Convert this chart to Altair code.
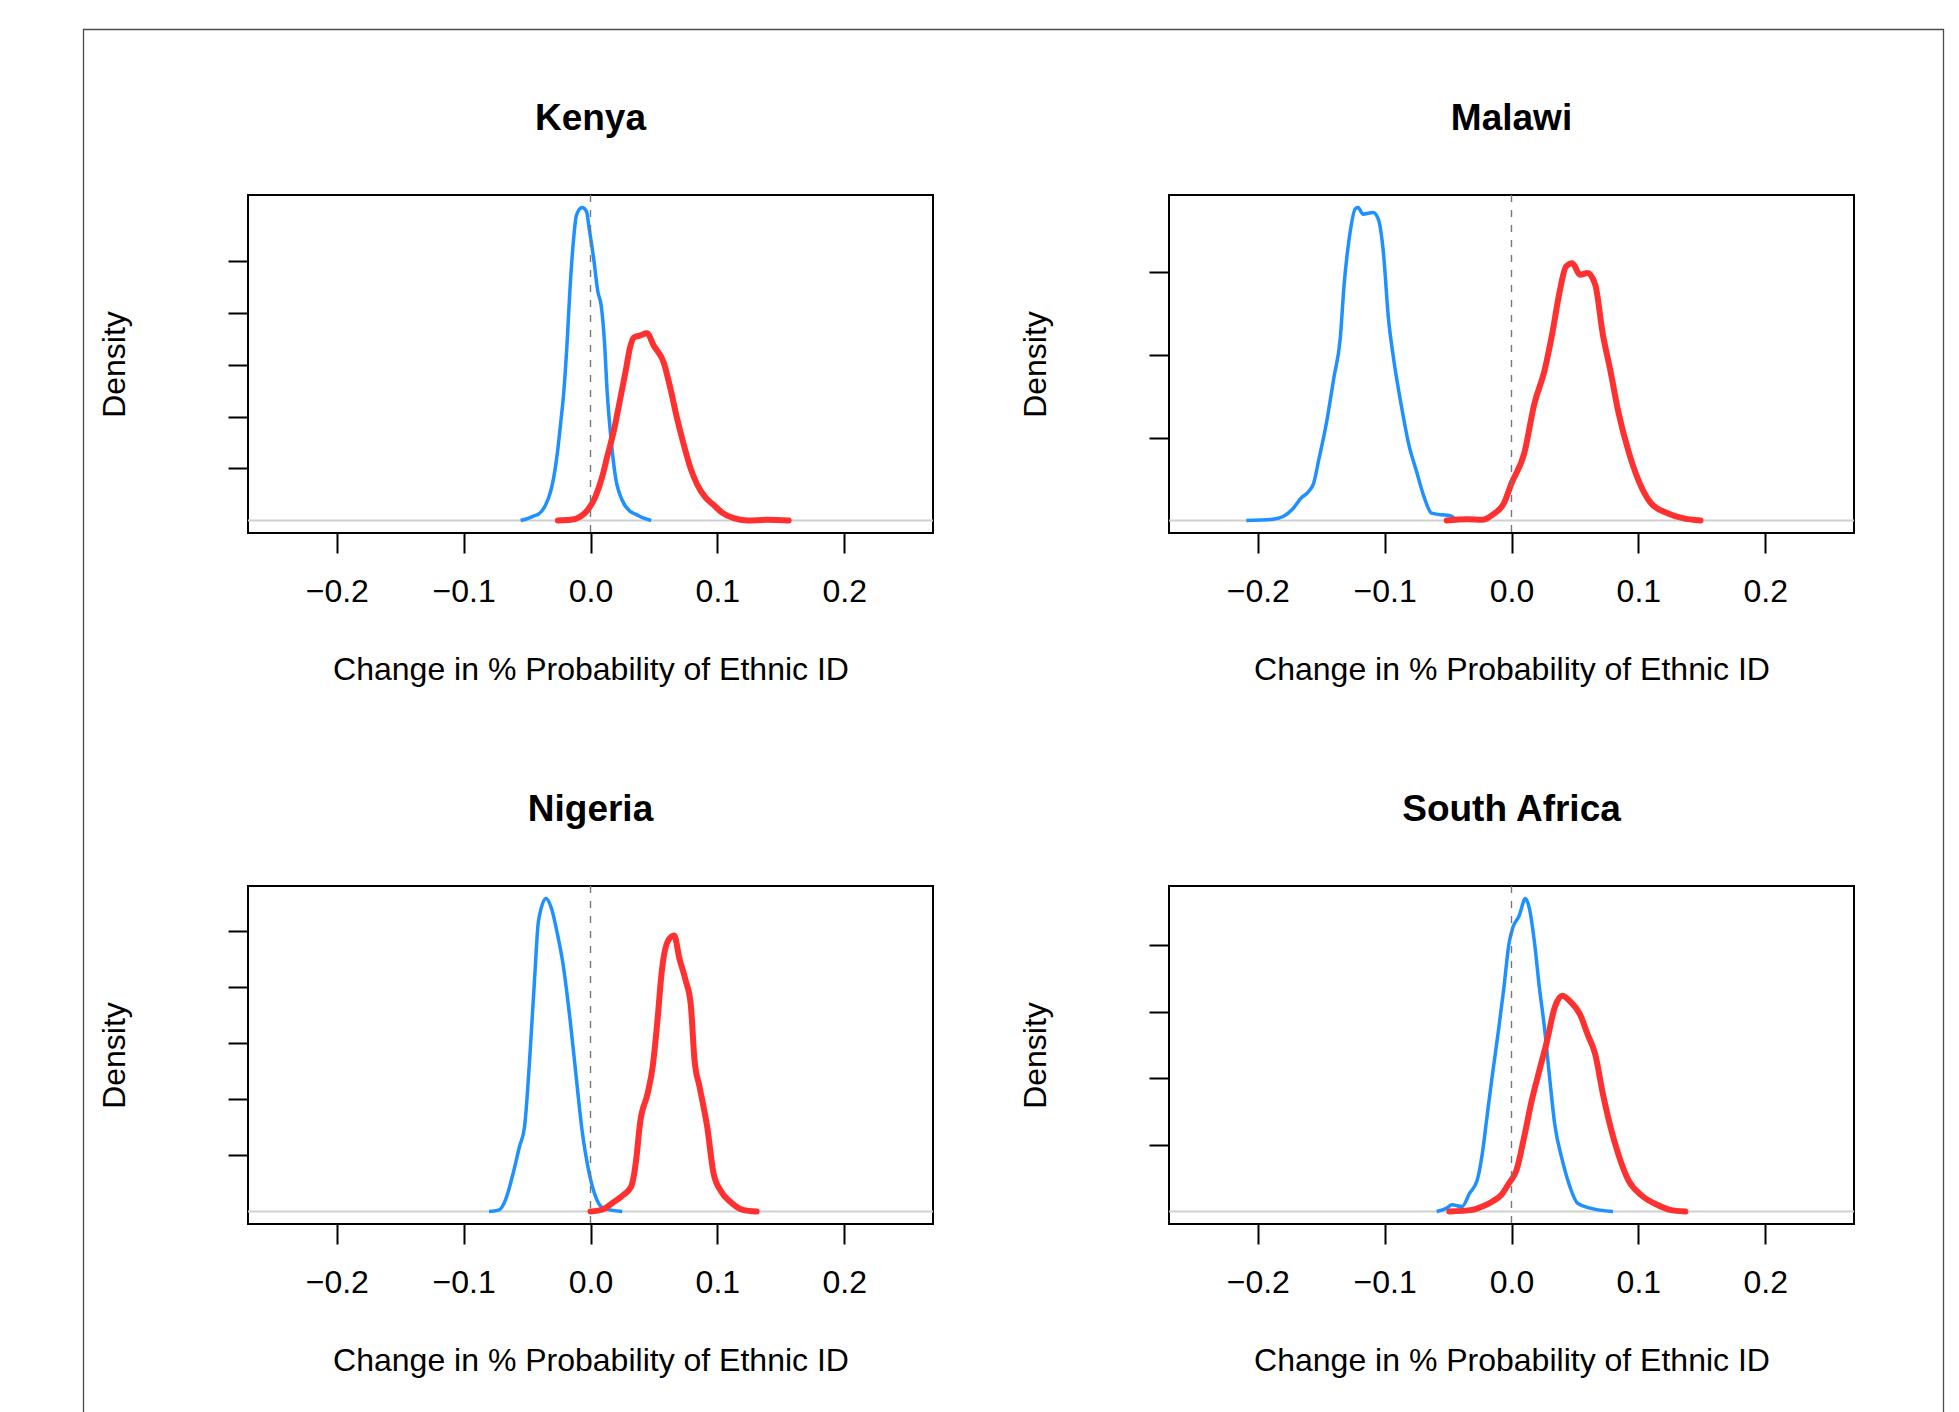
import altair as alt
import pandas as pd

# ---------------- data ----------------
countries = ["Kenya", "Malawi", "Nigeria", "South Africa"]
x_ticks = [-0.2, -0.1, 0.0, 0.1, 0.2]
x_range = [-0.27, 0.27]
density_ticks = [5, 10, 15, 20, 25]
zero_ref = [0.0]

kenya_blue_x = [-0.0551, -0.0486, -0.0446, -0.0407, -0.0354, -0.0315, -0.0289, -0.0262, -0.0236,
                -0.0210, -0.0184, -0.0163, -0.0136, -0.0110, -0.0066, -0.0031, -0.0013, 0.0026,
                0.0058, 0.0084, 0.0110, 0.0131, 0.0163, 0.0197, 0.0249, 0.0315, 0.0367, 0.0420, 0.0478]
kenya_blue_y = [0.0, 0.22, 0.44, 0.63, 1.49, 2.76, 4.19, 6.41, 9.27,
                12.44, 17.2, 22.0, 26.7, 29.4, 30.1, 29.7, 28.3, 25.1,
                22.0, 20.7, 17.2, 12.44, 7.68, 4.19, 1.97, 0.86, 0.54, 0.22, 0.0]
kenya_red_x = [-0.0257, -0.0157, -0.0079, -0.0021, 0.0039, 0.0092, 0.0131, 0.0184, 0.0236, 0.0276,
               0.0315, 0.0341, 0.0394, 0.0446, 0.0499, 0.0577, 0.0630, 0.0682, 0.0735, 0.0787,
               0.0840, 0.0906, 0.0971, 0.1037, 0.1129, 0.1234, 0.1391, 0.1562]
kenya_red_y = [0.0, 0.06, 0.38, 1.02, 2.29, 4.19, 6.1, 8.63, 11.8, 14.3,
               16.8, 17.6, 17.8, 18.0, 16.8, 15.2, 12.7, 9.84, 7.3, 5.08,
               3.49, 2.22, 1.49, 0.76, 0.22, 0.0, 0.06, 0.0]

malawi_blue_x = [-0.209, -0.188, -0.180, -0.172, -0.166, -0.160, -0.156, -0.152, -0.146, -0.140,
                 -0.135, -0.132, -0.128, -0.123, -0.121, -0.117, -0.109, -0.105, -0.101, -0.097,
                 -0.093, -0.087, -0.081, -0.075, -0.069, -0.063, -0.055, -0.049, -0.043]
malawi_blue_y = [0.0, 0.08, 0.24, 0.74, 1.34, 1.74, 2.24, 3.64, 5.84, 8.64,
                 11.0, 14.2, 17.0, 18.84, 18.9, 18.5, 18.6, 18.2, 16.2, 12.2,
                 9.8, 7.0, 4.6, 3.0, 1.44, 0.44, 0.34, 0.3, 0.0]
malawi_red_x = [-0.051, -0.035, -0.023, -0.015, -0.006, 0.000, 0.010, 0.018, 0.026, 0.032,
                0.038, 0.043, 0.048, 0.054, 0.060, 0.066, 0.072, 0.078, 0.084, 0.092,
                0.100, 0.110, 0.123, 0.135, 0.149]
malawi_red_y = [0.0, 0.08, 0.04, 0.34, 1.04, 2.24, 4.04, 7.04, 9.04, 11.24,
                13.84, 15.34, 15.54, 14.84, 14.94, 14.24, 11.24, 9.04, 6.64, 4.24,
                2.44, 1.04, 0.44, 0.14, 0.0]

nigeria_blue_x = [-0.080, -0.072, -0.067, -0.061, -0.056, -0.052, -0.048, -0.044, -0.041, -0.035,
                  -0.031, -0.026, -0.022, -0.016, -0.011, -0.007, -0.001, 0.004, 0.010, 0.025]
nigeria_blue_y = [0.0, 0.15, 1.04, 3.4, 5.77, 7.54, 13.5, 20.9, 25.9, 27.9,
                  27.1, 24.7, 22.3, 17.0, 11.7, 7.54, 3.4, 1.33, 0.3, 0.0]
nigeria_red_x = [0.000, 0.010, 0.017, 0.026, 0.032, 0.036, 0.039, 0.045, 0.049, 0.053,
                 0.056, 0.061, 0.066, 0.070, 0.075, 0.079, 0.082, 0.086, 0.092, 0.097,
                 0.103, 0.110, 0.120, 0.131]
nigeria_red_y = [0.0, 0.2, 0.74, 1.48, 2.2, 4.6, 7.84, 10.5, 12.9, 17.3,
                 21.2, 24.1, 24.6, 22.6, 20.6, 18.5, 13.5, 11.1, 7.54, 3.4,
                 1.78, 0.89, 0.15, 0.0]

safrica_blue_x = [-0.059, -0.051, -0.047, -0.039, -0.033, -0.027, -0.023, -0.019, -0.015, -0.010,
                  -0.006, -0.002, 0.001, 0.006, 0.011, 0.014, 0.018, 0.022, 0.026, 0.030,
                  0.034, 0.040, 0.046, 0.052, 0.062, 0.080]
safrica_blue_y = [0.0, 0.25, 0.5, 0.37, 1.37, 2.37, 4.36, 7.36, 10.3, 13.8,
                  16.8, 20.1, 21.3, 22.2, 23.5, 22.8, 20.3, 16.8, 13.8, 10.1,
                  6.6, 3.87, 1.87, 0.62, 0.25, 0.0]
safrica_red_x = [-0.049, -0.031, -0.023, -0.015, -0.008, -0.002, 0.004, 0.010, 0.016, 0.022,
                 0.028, 0.034, 0.040, 0.046, 0.054, 0.060, 0.066, 0.072, 0.078, 0.084,
                 0.092, 0.102, 0.115, 0.125, 0.137]
safrica_red_y = [0.0, 0.12, 0.37, 0.75, 1.25, 2.12, 3.12, 5.6, 8.35, 10.6,
                 12.8, 15.3, 16.2, 15.8, 14.8, 13.3, 11.8, 8.85, 6.36, 4.36,
                 2.37, 1.25, 0.5, 0.12, 0.0]

curves = {
    "Kenya": (kenya_blue_x, kenya_blue_y, kenya_red_x, kenya_red_y),
    "Malawi": (malawi_blue_x, malawi_blue_y, malawi_red_x, malawi_red_y),
    "Nigeria": (nigeria_blue_x, nigeria_blue_y, nigeria_red_x, nigeria_red_y),
    "South Africa": (safrica_blue_x, safrica_blue_y, safrica_red_x, safrica_red_y),
}

# ---------------- style ----------------
BLUE = "#1E90FF"
RED = "#FF3030"
FONT = "Liberation Sans"
PANEL_W, PANEL_H = 685, 338
ROW_GAP, COL_GAP = 353, 236


def panel(name):
    bx, by, rx, ry = curves[name]
    df = pd.DataFrame({
        "x": list(bx) + list(rx),
        "d": list(by) + list(ry),
        "series": ["blue"] * len(bx) + ["red"] * len(rx),
    })
    m = max(max(by), max(ry))
    ydom = [-0.04 * m, 1.04 * m]
    yvals = [v for v in density_ticks if v <= ydom[1]]

    xs = alt.Scale(domain=x_range, nice=False, zero=False)
    ys = alt.Scale(domain=ydom, nice=False, zero=False)
    xaxis = alt.Axis(values=x_ticks, format=".1f", title="Change in % Probability of Ethnic ID",
                     labelPadding=48, labelBaseline="alphabetic", titleY=146,
                     titleBaseline="alphabetic", labelOverlap=False, labelFlush=False)
    yaxis = alt.Axis(values=yvals, labels=False, title="Density", titleX=-124, titleY=PANEL_H / 2,
                     titleAngle=270, titleAlign="center", titleBaseline="alphabetic")

    X = alt.X("x:Q", scale=xs, axis=xaxis)
    Y = alt.Y("d:Q", scale=ys, axis=yaxis)

    ref = pd.DataFrame({"x": zero_ref, "d": zero_ref})
    zero_line = alt.Chart(ref).mark_rule(color="#D0D0D0", strokeWidth=2).encode(y=Y)
    base = alt.Chart(df)
    blue = base.transform_filter(alt.datum.series == "blue").mark_line(
        color=BLUE, strokeWidth=3.5, interpolate="monotone", strokeCap="butt", strokeJoin="round"
    ).encode(x=X, y=Y)
    red = base.transform_filter(alt.datum.series == "red").mark_line(
        color=RED, strokeWidth=6, interpolate="monotone", strokeCap="round", strokeJoin="round"
    ).encode(x=X, y=Y)
    dash = alt.Chart(ref).mark_rule(color="#777777", strokeWidth=1.4, strokeDash=[7, 8]).encode(x=X)

    return alt.layer(zero_line, blue, red, dash).properties(
        width=PANEL_W, height=PANEL_H,
        title=alt.TitleParams(name, fontSize=37, font=FONT, fontWeight="bold", color="black",
                              anchor="middle", offset=56),
    )


panels = [panel(c) for c in countries]

# page frame, held by an empty third-row cell (below the visible page) so it
# does not push any panel title around
cell_top = 2 * (PANEL_H + ROW_GAP)
frame = alt.Chart(pd.DataFrame({"k": [0]})).mark_rect(
    filled=False, stroke="#4D4D4D", strokeWidth=1.3
).encode(
    x=alt.value(-164.5), x2=alt.value(1695.5),
    y=alt.value(-165.5 - cell_top), y2=alt.value(1300 - cell_top),
).properties(width=1, height=1, view=alt.ViewBackground(strokeOpacity=0))

chart = alt.concat(
    *panels, frame, columns=2, spacing=alt.RowColnumber(row=ROW_GAP, column=COL_GAP), bounds="flush"
).properties(
    padding={"left": 74, "top": 20, "right": 0, "bottom": 0}
).configure_view(
    stroke="black", strokeWidth=2
).configure_axis(
    labelFont=FONT, labelFontSize=32, labelColor="black",
    titleFont=FONT, titleFontSize=32, titleFontWeight="normal", titleColor="black",
    tickColor="black", tickWidth=2, tickSize=20, domain=False, grid=False,
)

chart.save("out.html", embed_options={"renderer": "svg", "actions": False})
